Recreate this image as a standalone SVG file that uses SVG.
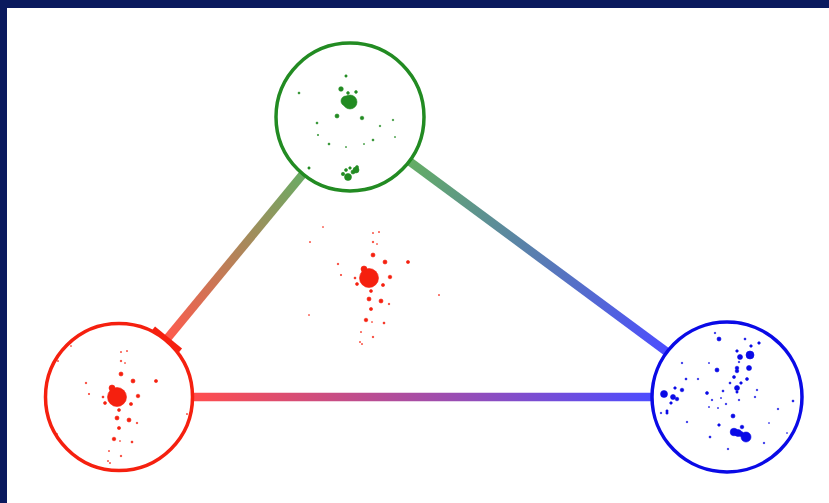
<svg xmlns="http://www.w3.org/2000/svg" xmlns:xlink="http://www.w3.org/1999/xlink" width="829" height="503" viewBox="0 0 829 503">
  <style>
    .node { fill: #ffffff; stroke-width: 3.5; }
    .edge { fill: none; stroke-width: 8.5; stroke-linecap: butt; }
    .g { fill: #228b22; stroke: #228b22; stroke-width: 0.6; }
    .r { fill: #f5200f; stroke: #f5200f; stroke-width: 0.6; }
    .b { fill: #0a0ae6; stroke: #0a0ae6; stroke-width: 0.6; }
  </style>
  <defs>
    <linearGradient id="gradGR" gradientUnits="userSpaceOnUse" x1="303" y1="174" x2="166" y2="340">
      <stop offset="0" stop-color="#6aab64"/>
      <stop offset="1" stop-color="#ff5a4d"/>
    </linearGradient>
    <linearGradient id="gradGB" gradientUnits="userSpaceOnUse" x1="409" y1="161" x2="667" y2="352">
      <stop offset="0" stop-color="#64ad64"/>
      <stop offset="1" stop-color="#4d4dff"/>
    </linearGradient>
    <linearGradient id="gradRB" gradientUnits="userSpaceOnUse" x1="193" y1="397" x2="652" y2="397">
      <stop offset="0" stop-color="#ff4d4d"/>
      <stop offset="1" stop-color="#4d4dff"/>
    </linearGradient>
    <!-- red point cloud, drawn around its own centre (117,397) -->
    <g id="redCloud" class="r">
      <circle cx="117" cy="397" r="9.5"/>
      <circle cx="112" cy="388" r="3"/>
      <circle cx="121" cy="374" r="2"/>
      <circle cx="133" cy="381" r="2"/>
      <circle cx="156" cy="381" r="1.6"/>
      <circle cx="138" cy="396" r="1.8"/>
      <circle cx="131" cy="404" r="1.6"/>
      <circle cx="105" cy="403" r="1.5"/>
      <circle cx="103" cy="397" r="1"/>
      <circle cx="86" cy="383" r="0.8"/>
      <circle cx="89" cy="394" r="0.7"/>
      <circle cx="119" cy="410" r="1.5"/>
      <circle cx="117" cy="418" r="2"/>
      <circle cx="129" cy="420" r="2"/>
      <circle cx="119" cy="428" r="1.6"/>
      <circle cx="137" cy="423" r="0.8"/>
      <circle cx="114" cy="439" r="1.8"/>
      <circle cx="132" cy="442" r="1"/>
      <circle cx="120" cy="441" r="0.5"/>
      <circle cx="121" cy="352" r="0.6"/>
      <circle cx="127" cy="351" r="0.6"/>
      <circle cx="121" cy="361" r="0.8"/>
      <circle cx="125" cy="363" r="0.5"/>
      <circle cx="58" cy="361" r="0.6"/>
      <circle cx="71" cy="346" r="0.5"/>
      <circle cx="109" cy="451" r="0.6"/>
      <circle cx="121" cy="456" r="0.8"/>
      <circle cx="108" cy="461" r="0.6"/>
      <circle cx="110" cy="463" r="0.6"/>
      <circle cx="187" cy="414" r="0.6"/>
      <circle cx="57" cy="434" r="0.5"/>
    </g>
  </defs>

  <!-- frame -->
  <rect x="0" y="0" width="829" height="503" fill="#ffffff"/>
  <rect x="0" y="0" width="829" height="8" fill="#0a1a5e"/>
  <rect x="0" y="0" width="7" height="503" fill="#0a1a5e"/>

  <!-- connectors -->
  <g id="edges">
    <line class="edge" x1="303" y1="174" x2="166" y2="340" stroke="url(#gradGR)"/>
    <line class="edge" x1="409" y1="161" x2="667" y2="352" stroke="url(#gradGB)"/>
    <line class="edge" x1="193" y1="397" x2="652" y2="397" stroke="url(#gradRB)"/>
    <!-- inhibition bar at the red end -->
    <line x1="153" y1="329" x2="180" y2="351" stroke="#f5200f" stroke-width="6.5"/>
  </g>

  <!-- free red cloud between the nodes -->
  <use xlink:href="#redCloud" href="#redCloud" transform="translate(252,-119)"/>

  <g id="nodeGreen">
    <circle class="node" cx="350" cy="117" r="74" stroke="#228b22"/>
    <g class="g">
      <circle cx="350" cy="102" r="7"/>
      <circle cx="346" cy="101" r="5"/>
      <circle cx="341" cy="89" r="2.3"/>
      <circle cx="348" cy="93" r="1.4"/>
      <circle cx="356" cy="92" r="1.4"/>
      <circle cx="346" cy="76" r="1.2"/>
      <circle cx="299" cy="93" r="1"/>
      <circle cx="337" cy="116" r="2"/>
      <circle cx="362" cy="118" r="1.8"/>
      <circle cx="317" cy="123" r="1"/>
      <circle cx="380" cy="126" r="0.8"/>
      <circle cx="393" cy="120" r="0.8"/>
      <circle cx="318" cy="135" r="0.7"/>
      <circle cx="329" cy="144" r="1"/>
      <circle cx="346" cy="147" r="0.6"/>
      <circle cx="364" cy="144" r="0.6"/>
      <circle cx="373" cy="140" r="1"/>
      <circle cx="395" cy="137" r="0.6"/>
      <circle cx="309" cy="168" r="1.2"/>
      <circle cx="348" cy="177" r="3.5"/>
      <circle cx="343" cy="174" r="1.7"/>
      <circle cx="346" cy="170" r="1.5"/>
      <circle cx="350" cy="168" r="1.3"/>
      <circle cx="356" cy="170" r="3"/>
      <circle cx="357" cy="167" r="1.5"/>
      <circle cx="353" cy="172" r="2"/>
    </g>
  </g>

  <g id="nodeRed">
    <circle class="node" cx="119" cy="397" r="73.5" stroke="#f5200f"/>
    <use xlink:href="#redCloud" href="#redCloud"/>
  </g>

  <g id="nodeBlue">
    <circle class="node" cx="727" cy="397" r="75" stroke="#0a0ae6"/>
    <g class="b">
      <circle cx="750" cy="355" r="4"/>
      <circle cx="740" cy="357" r="2.5"/>
      <circle cx="719" cy="339" r="2"/>
      <circle cx="715" cy="333" r="0.8"/>
      <circle cx="745" cy="339" r="1"/>
      <circle cx="751" cy="346" r="1.3"/>
      <circle cx="759" cy="343" r="1.3"/>
      <circle cx="737" cy="351" r="1.3"/>
      <circle cx="739" cy="362" r="0.8"/>
      <circle cx="749" cy="368" r="2.5"/>
      <circle cx="737" cy="368" r="1.8"/>
      <circle cx="737" cy="371" r="1.8"/>
      <circle cx="717" cy="370" r="2"/>
      <circle cx="734" cy="377" r="1.5"/>
      <circle cx="747" cy="379" r="1.5"/>
      <circle cx="741" cy="383" r="1.3"/>
      <circle cx="730" cy="383" r="1"/>
      <circle cx="737" cy="388" r="2.5"/>
      <circle cx="737" cy="392" r="1.2"/>
      <circle cx="723" cy="391" r="1"/>
      <circle cx="707" cy="393" r="1.5"/>
      <circle cx="757" cy="390" r="0.8"/>
      <circle cx="755" cy="397" r="0.8"/>
      <circle cx="793" cy="401" r="1"/>
      <circle cx="778" cy="409" r="0.8"/>
      <circle cx="664" cy="394" r="3.5"/>
      <circle cx="673" cy="397" r="2.5"/>
      <circle cx="677" cy="399" r="1.8"/>
      <circle cx="682" cy="390" r="1.8"/>
      <circle cx="675" cy="388" r="1.3"/>
      <circle cx="671" cy="403" r="1.3"/>
      <circle cx="667" cy="411" r="1.2"/>
      <circle cx="667" cy="413" r="1.2"/>
      <circle cx="661" cy="413" r="0.8"/>
      <circle cx="686" cy="379" r="1"/>
      <circle cx="682" cy="363" r="0.8"/>
      <circle cx="698" cy="379" r="0.8"/>
      <circle cx="709" cy="363" r="0.6"/>
      <circle cx="712" cy="400" r="0.8"/>
      <circle cx="721" cy="398" r="0.6"/>
      <circle cx="726" cy="404" r="0.8"/>
      <circle cx="739" cy="400" r="0.8"/>
      <circle cx="709" cy="407" r="0.6"/>
      <circle cx="718" cy="408" r="0.6"/>
      <circle cx="733" cy="416" r="2"/>
      <circle cx="687" cy="422" r="0.8"/>
      <circle cx="719" cy="425" r="1.3"/>
      <circle cx="742" cy="427" r="1.8"/>
      <circle cx="734" cy="432" r="3.8"/>
      <circle cx="738" cy="433" r="3.5"/>
      <circle cx="741" cy="434" r="2.5"/>
      <circle cx="746" cy="437" r="5"/>
      <circle cx="710" cy="437" r="1"/>
      <circle cx="728" cy="449" r="0.8"/>
      <circle cx="764" cy="443" r="0.8"/>
      <circle cx="787" cy="433" r="0.5"/>
      <circle cx="769" cy="423" r="0.5"/>
    </g>
  </g>
</svg>
